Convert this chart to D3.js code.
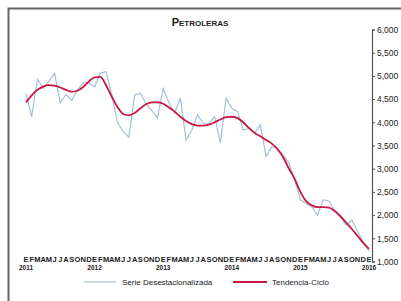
<!DOCTYPE html>
<head>
  <meta charset="utf-8">
  <script src="https://d3js.org/d3.v7.min.js"></script>
  <style>
    body { margin: 0; background: #fff; }
    svg { width: 401px; height: 301px; display: block; }
    text { font-family: "Liberation Sans", Arial, sans-serif; }
  </style>
</head>

<body>
  <svg></svg>

  <script>
    // months Jan 2011 .. Jan 2016
    const monthLetters = 'EFMAMJJASOND'.split('');
    const years = ['2011', '2012', '2013', '2014', '2015', '2016'];
    const yTicks = [1000, 1500, 2000, 2500, 3000, 3500, 4000, 4500, 5000, 5500, 6000];

    const serie = [
      4620, 4120, 4930, 4730, 4880, 5050, 4420, 4600, 4470, 4700, 4850, 4850,
      4760, 5060, 5090, 4600, 4000, 3800, 3680, 4590, 4625, 4400, 4250, 4090,
      4730, 4420, 4200, 4520, 3620, 3830, 4160, 3980, 3980, 4120, 3560, 4520,
      4300, 4230, 3835, 3870, 3770, 3940, 3260, 3475, 3440, 3300, 3120, 2760,
      2330, 2250, 2180, 2000, 2330, 2300, 2100, 1950, 1790, 1890, 1650, 1420,
      1220
    ];
    const tendencia = [
      4430, 4580, 4700, 4770, 4800, 4790, 4750, 4700, 4660, 4680, 4760, 4880,
      4970, 4980, 4800, 4550, 4330, 4180, 4150, 4200, 4300, 4390, 4430, 4430,
      4400, 4320, 4230, 4120, 4030, 3960, 3930, 3930, 3950, 4000, 4060, 4110,
      4120, 4090, 4000, 3880, 3770, 3700, 3620, 3540, 3420, 3240, 3000, 2780,
      2500, 2300, 2210, 2170, 2170, 2160, 2090, 1980, 1840, 1700, 1550, 1400,
      1270
    ];

    const svg = d3.select('svg');

    // outer frame
    svg.append('rect')
      .attr('x', 8.5).attr('y', 8.5)
      .attr('width', 500).attr('height', 400)
      .attr('fill', 'none')
      .attr('stroke', '#666')
      .attr('stroke-width', 2);

    const x = d3.scaleLinear().domain([0, 60]).range([26, 369]);
    const y = d3.scaleLinear().domain([1000, 6000]).range([261.5, 29.5]);

    // title
    const title = svg.append('text')
      .attr('x', 200).attr('y', 26)
      .attr('text-anchor', 'middle')
      .attr('font-weight', 'bold')
      .attr('fill', '#222');
    title.append('tspan').attr('font-size', 11).text('P');
    title.append('tspan').attr('font-size', 8).text('ETROLERAS');

    // y axis on the right
    const yAxis = svg.append('g')
      .attr('transform', 'translate(372,0)')
      .call(d3.axisRight(y).tickValues(yTicks).tickFormat(d3.format(',')).tickSize(3).tickPadding(2));
    yAxis.select('.domain').attr('stroke', '#555').attr('stroke-width', 1.2);
    yAxis.selectAll('.tick line').attr('stroke', '#555');
    yAxis.selectAll('text')
      .attr('font-family', '"Liberation Sans", Arial, sans-serif')
      .attr('font-size', 8.5)
      .attr('fill', '#222');

    // month letters
    const monthIdx = d3.range(0, 61);
    svg.append('g').selectAll('text')
      .data(monthIdx).enter().append('text')
      .attr('x', d => x(d))
      .attr('y', 262)
      .attr('text-anchor', 'middle')
      .attr('font-size', 7.5)
      .attr('font-weight', 'bold')
      .attr('fill', '#222')
      .text(d => monthLetters[d % 12]);

    // year labels
    svg.append('g').selectAll('text')
      .data(years).enter().append('text')
      .attr('x', (d, i) => x(i * 12))
      .attr('y', 270)
      .attr('text-anchor', 'middle')
      .attr('font-size', 6.5)
      .attr('font-weight', 'bold')
      .attr('fill', '#222')
      .text(d => d);

    const line = d3.line()
      .x((d, i) => x(i))
      .y(d => y(d));

    svg.append('path')
      .attr('d', line(serie))
      .attr('fill', 'none')
      .attr('stroke', '#a3bfda')
      .attr('stroke-width', 1.2);

    svg.append('path')
      .attr('d', line.curve(d3.curveMonotoneX)(tendencia))
      .attr('fill', 'none')
      .attr('stroke', '#c8183f')
      .attr('stroke-width', 1.8);

    // legend
    const legend = [
      { name: 'Serie Desestacionalizada', color: '#a3bfda', w: 1.2, x1: 84, x2: 116, tx: 122 },
      { name: 'Tendencia-Ciclo', color: '#c8183f', w: 1.8, x1: 233, x2: 267, tx: 272 }
    ];
    const lg = svg.append('g').selectAll('g')
      .data(legend).enter().append('g');
    lg.append('line')
      .attr('x1', d => d.x1).attr('x2', d => d.x2)
      .attr('y1', 282).attr('y2', 282)
      .attr('stroke', d => d.color)
      .attr('stroke-width', d => d.w);
    lg.append('text')
      .attr('x', d => d.tx).attr('y', 285)
      .attr('font-size', 8)
      .attr('fill', '#222')
      .text(d => d.name);
  </script>
</body>
